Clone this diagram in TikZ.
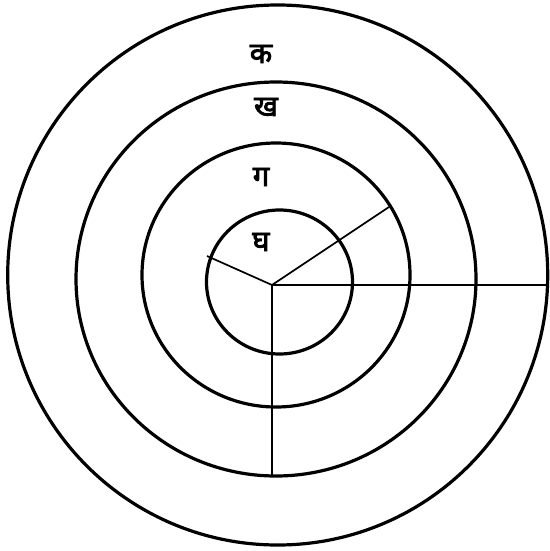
\documentclass[tikz,border=0pt]{standalone}
\usepackage{fontspec}
\newfontfamily\devfont[Script=Devanagari,FakeBold=3]{Noto Sans}
\begin{document}
\begin{tikzpicture}[x=1pt,y=-1pt,
  ring/.style={draw=black,line width=3.2pt},
  spoke/.style={draw=black,line width=1.7pt},
  lbl/.style={font=\devfont\fontsize{29}{33}\selectfont,inner sep=0pt}]
\useasboundingbox (0,0) rectangle (549,551);
\draw[ring] (277.7,275) ellipse [x radius=270,y radius=270];
\draw[ring] (276,279) ellipse [x radius=200,y radius=197];
\draw[ring] (276,275) ellipse [x radius=134,y radius=132];
\draw[ring] (279.5,282) ellipse [x radius=73,y radius=72];
\coordinate (c) at (272,285);
\coordinate (e) at (548,285);
\coordinate (s) at (272,477);
\coordinate (ne) at (389,207);
\coordinate (nw) at (207,256);
\draw[spoke,line width=2.8pt] (c) -- (e);
\draw[spoke] (c) -- (s);
\draw[spoke] (c) -- (ne);
\draw[spoke] (c) -- (nw);
\node[lbl] (k) at (261,54) {क};
\node[lbl] (kh) at (266,107) {ख};
\node[lbl] (g) at (261,177) {ग};
\node[lbl] (gh) at (261,242) {घ};
\end{tikzpicture}
\end{document}
